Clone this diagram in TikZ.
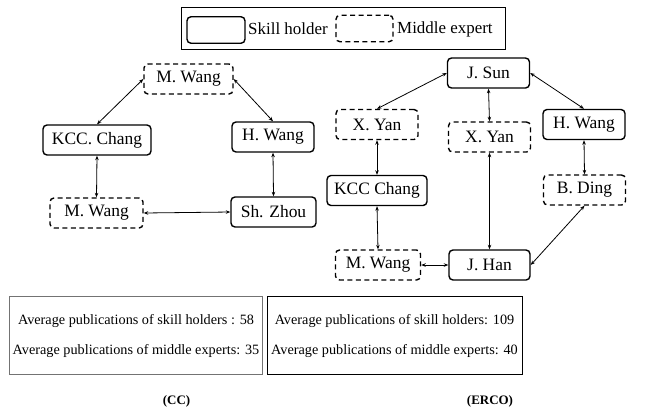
\documentclass[tikz,border=0pt]{standalone}
\usepackage{fontspec}
\setmainfont{Liberation Serif}
\usetikzlibrary{arrows.meta}
\tikzset{
  holder/.style={draw=black, line width=1.4bp, rounded corners=4bp, minimum height=30bp, inner sep=0pt, font=\fontsize{17.5}{20}\selectfont},
  middle/.style={holder, dashed, dash pattern=on 5bp off 3.5bp},
  link/.style={line width=0.8bp, {Stealth[length=4.5bp,width=3.5bp]}-{Stealth[length=4.5bp,width=3.5bp]}},
  statbox/.style={draw, line width=1bp, inner sep=0pt},
  stattext/.style={font=\fontsize{14.3}{16}\selectfont, inner sep=0pt},
  caption/.style={font=\fontsize{13}{15}\selectfont\bfseries, inner sep=0pt},
  legtext/.style={font=\fontsize{17}{20}\selectfont, inner sep=0pt, anchor=west}
}
\begin{document}
\begin{tikzpicture}[x=1bp,y=-1bp]
\useasboundingbox (0,0) rectangle (651,412);
% legend
\node[draw, line width=1bp, minimum width=324bp, minimum height=41.5bp, inner sep=0pt] (legend) at (343,28.5) {};
\node[holder, minimum width=58bp, minimum height=26.5bp] (legA) at (216,30) {};
\node[legtext] (legAt) at (248,29) {Skill holder};
\node[middle, minimum width=57bp, minimum height=26.5bp] (legB) at (364.5,28.5) {};
\node[legtext] (legBt) at (397,29) {Middle expert};

% CC graph
\node[middle, minimum width=89bp] (cmw1) at (188.5,79) {M. Wang};
\node[holder, minimum width=108bp] (ckcc) at (97,140) {KCC. Chang};
\node[holder, minimum width=82bp] (chw) at (273,137) {H. Wang};
\node[middle, minimum width=93bp] (cmw2) at (96.5,213) {M. Wang};
\node[holder, minimum width=85bp] (csz) at (273.5,212) {Sh. Zhou};
\draw[link] (cmw1.west) -- (ckcc.north);
\draw[link] (cmw1.east) -- (chw.north);
\draw[link] (ckcc.south) -- (cmw2.north);
\draw[link] (chw.south) -- (csz.north);
\draw[link] (cmw2.east) -- (csz.west);

% ERCO graph
\node[holder, minimum width=82bp] (ejs) at (488.5,73) {J. Sun};
\node[middle, minimum width=82bp] (exy1) at (377,124.5) {X. Yan};
\node[middle, minimum width=82bp] (exy2) at (489.5,137) {X. Yan};
\node[holder, minimum width=82bp] (ehw) at (584,124.5) {H. Wang};
\node[holder, minimum width=100bp] (ekcc) at (377,190.5) {KCC Chang};
\node[middle, minimum width=82bp] (ebd) at (584.5,190) {B. Ding};
\node[middle, minimum width=85bp] (emw) at (378,265) {M. Wang};
\node[holder, minimum width=81bp] (ejh) at (489.5,265) {J. Han};
\draw[link] (ejs.west) -- (exy1.north);
\draw[link] (ejs.east) -- (ehw.north);
\draw[link] (ejs.south) -- (exy2.north);
\draw[link] (exy1.south) -- (ekcc.north);
\draw[link] (exy2.south) -- (ejh.north);
\draw[link] (ehw.south) -- (ebd.north);
\draw[link] (ekcc.south) -- (emw.north);
\draw[link] (ebd.south) -- (ejh.east);
\draw[link] (emw.east) -- (ejh.west);

% stats
\node[statbox, draw=black!55, minimum width=252bp, minimum height=78bp] (sbL) at (136,335) {};
\node[stattext] (sL1) at (136,321.5) {Average publications of skill holders : 58};
\node[stattext] (sL2) at (136,351.5) {Average publications of middle experts: 35};
\node[statbox, minimum width=255bp, minimum height=78bp] (sbR) at (394.5,335) {};
\node[stattext] (sR1) at (394.5,321.5) {Average publications of skill holders: 109};
\node[stattext] (sR2) at (394.5,351.5) {Average publications of middle experts: 40};

% captions
\node[caption] (capL) at (176.5,401) {(CC)};
\node[caption] (capR) at (490,401) {(ERCO)};
\end{tikzpicture}
\end{document}
